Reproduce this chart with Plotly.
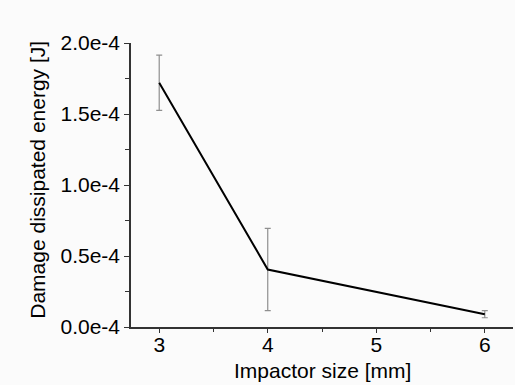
import plotly.graph_objects as go

impactor_size = [3, 4, 6]
energy = [1.72e-4, 0.405e-4, 0.09e-4]
energy_err = [0.195e-4, 0.29e-4, 0.025e-4]

y_tickvals = [0, 0.5e-4, 1.0e-4, 1.5e-4, 2.0e-4]
y_ticktext = ["0.0e-4", "0.5e-4", "1.0e-4", "1.5e-4", "2.0e-4"]
x_tickvals = [3, 4, 5, 6]

x_title = "Impactor size [mm]"
y_title = "Damage dissipated energy [J]"

font_family = "Liberation Sans, Arial, sans-serif"

fig = go.Figure()
fig.add_trace(go.Scatter(
    x=impactor_size, y=energy, mode="lines",
    line=dict(color="black", width=2),
    error_y=dict(type="data", array=energy_err, visible=True,
                 color="#8f8f8f", thickness=1.2, width=3),
    showlegend=False,
))

fig.update_layout(
    width=515, height=385,
    margin=dict(l=131, r=2, t=43, b=58),
    paper_bgcolor="#fbfbfb", plot_bgcolor="#fbfbfb",
    font=dict(family=font_family, size=20, color="black"),
    xaxis=dict(
        range=[2.74, 6.26], tickvals=x_tickvals, automargin=False,
        ticks="outside", ticklen=4, tickwidth=1.2, tickcolor="#333",
        showline=True, linecolor="#333", linewidth=1.5,
        showgrid=False, zeroline=False, ticklabelstandoff=-6,
        minor=dict(ticks="outside", ticklen=3, tickwidth=1.2, tickcolor="#333", dtick=0.5, tick0=3),
        tickfont=dict(size=21),
    ),
    yaxis=dict(
        range=[0, 2.0e-4], tickvals=y_tickvals, ticktext=y_ticktext, automargin=False,
        ticks="outside", ticklen=5, tickwidth=1.2, tickcolor="#333",
        showline=True, linecolor="#333", linewidth=1.5,
        showgrid=False, zeroline=False,
        minor=dict(ticks="outside", ticklen=4, tickwidth=1.2, tickcolor="#333", dtick=0.25e-4, tick0=0),
        tickfont=dict(size=21),
    ),
    annotations=[
        dict(text=x_title, xref="paper", yref="paper", x=0.5, y=-0.153,
             xanchor="center", yanchor="middle", showarrow=False, font=dict(size=21)),
        dict(text=y_title, xref="paper", yref="paper", x=-0.245, y=0.52,
             xanchor="center", yanchor="middle", textangle=-90, showarrow=False, font=dict(size=21)),
    ],
)

fig.write_html("out.html", config={"displayModeBar": False},
               post_script="document.body.style.margin='0';document.body.style.background='#fbfbfb';")
